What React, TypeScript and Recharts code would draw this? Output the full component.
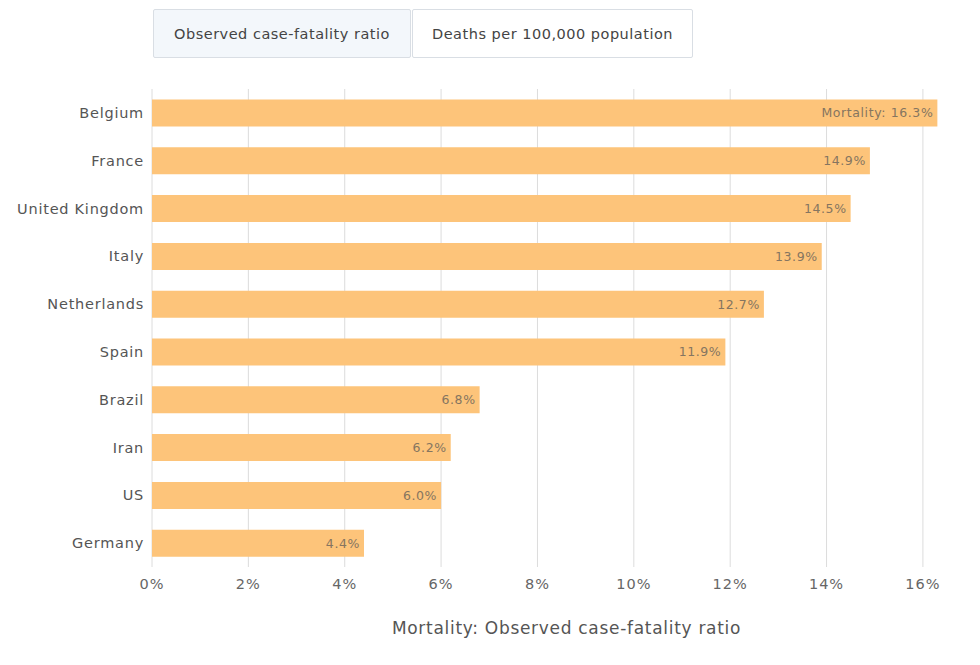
import { BarChart, Bar, XAxis, YAxis, CartesianGrid, LabelList, Label } from "recharts";

const countries = [
  "Belgium",
  "France",
  "United Kingdom",
  "Italy",
  "Netherlands",
  "Spain",
  "Brazil",
  "Iran",
  "US",
  "Germany",
];

const mortality = [16.3, 14.9, 14.5, 13.9, 12.7, 11.9, 6.8, 6.2, 6.0, 4.4];

const xTicks = [0, 2, 4, 6, 8, 10, 12, 14, 16];

const tabs = ["Observed case-fatality ratio", "Deaths per 100,000 population"];

const font = "'DejaVu Sans', sans-serif";

const App = () => {
  const data = countries.map((name, i) => ({ name, value: mortality[i] }));

  const tabStyle = (active: boolean, left: number, width: number) => ({
    position: "absolute" as const,
    left,
    top: 9,
    width,
    height: 49,
    boxSizing: "border-box" as const,
    border: "1px solid #d9dee4",
    borderRadius: 2,
    background: active ? "#f3f7fb" : "#ffffff",
    color: "#444",
    fontFamily: font,
    fontSize: 14.5,
    letterSpacing: 0.5,
    display: "flex",
    alignItems: "center",
    justifyContent: "center",
  });

  return (
    <div style={{ position: "absolute", left: 0, top: 0, width: 980, height: 665, background: "#fff" }}>
      <div style={tabStyle(true, 153, 258)}>{tabs[0]}</div>
      <div style={tabStyle(false, 412, 281)}>{tabs[1]}</div>
      <BarChart
        width={980}
        height={665}
        data={data}
        layout="vertical"
        margin={{ top: 89, right: 33, bottom: 28, left: 8 }}
        barCategoryGap="22%"
      >
        <CartesianGrid horizontal={false} stroke="#dcdcdc" syncWithTicks />
        <XAxis
          type="number"
          domain={[0, 16.5]}
          ticks={xTicks}
          tickFormatter={(v) => `${v}%`}
          axisLine={false}
          tickLine={false}
          tickSize={0}
          tickMargin={12}
          height={70}
          tick={{ fill: "#666", fontSize: 14.5, fontFamily: font, letterSpacing: 1 }}
        >
          <Label
            value="Mortality: Observed case-fatality ratio"
            position="insideBottom"
            offset={3}
            dx={17}
            style={{ fill: "#555", fontSize: 17, fontFamily: font, letterSpacing: 0.7 }}
          />
        </XAxis>
        <YAxis
          type="category"
          dataKey="name"
          width={144}
          axisLine={false}
          tickLine={false}
          tickSize={0}
          tickMargin={8}
          tick={{ fill: "#555", fontSize: 14.5, fontFamily: font, letterSpacing: 0.75 }}
        />
        <Bar dataKey="value" fill="#fdc47a" isAnimationActive={false}>
          <LabelList
            dataKey="value"
            position="insideRight"
            offset={4}
            formatter={(v: any) => (v === mortality[0] ? `Mortality: ${v.toFixed(1)}%` : `${Number(v).toFixed(1)}%`)}
            style={{ fill: "#857560", fontSize: 12.5, fontFamily: font, letterSpacing: 0.6 }}
          />
        </Bar>
      </BarChart>
    </div>
  );
};

export default App;
